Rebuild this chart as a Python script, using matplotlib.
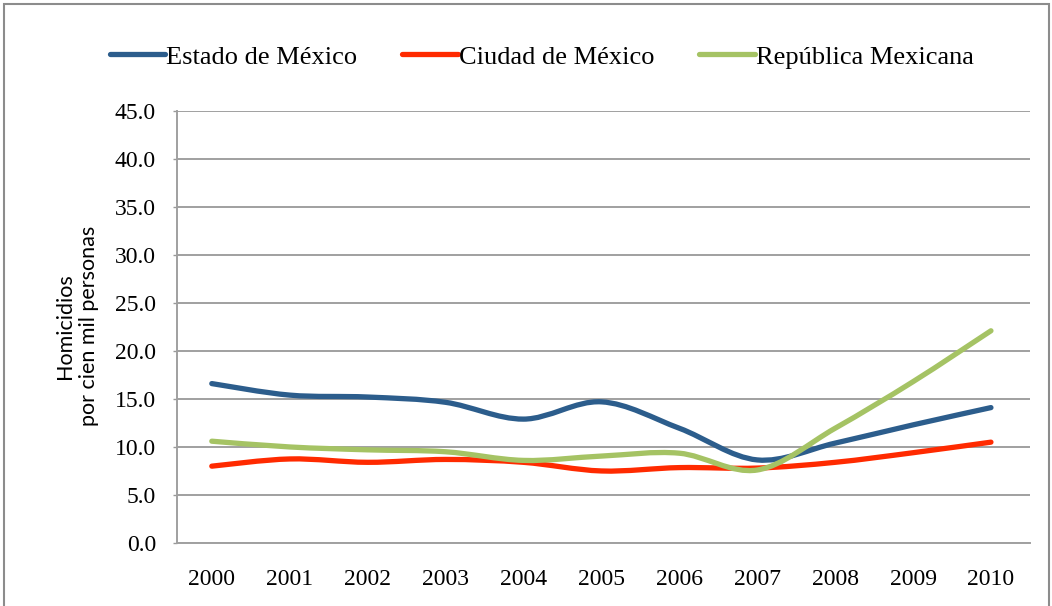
import numpy as np
import matplotlib
matplotlib.use("Agg")
import matplotlib.pyplot as plt
from matplotlib.path import Path
from matplotlib.patches import PathPatch, Rectangle
from matplotlib.lines import Line2D

# data
years = ['2000', '2001', '2002', '2003', '2004', '2005', '2006', '2007', '2008', '2009', '2010']
estado = [16.6, 15.4, 15.2, 14.65, 12.9, 14.7, 11.95, 8.65, 10.4, 12.3, 14.1]
ciudad = [8.0, 8.75, 8.4, 8.7, 8.4, 7.5, 7.85, 7.8, 8.4, 9.4, 10.5]
republica = [10.6, 10.0, 9.7, 9.5, 8.6, 9.05, 9.35, 7.6, 11.95, 16.8, 22.1]

names = ['Estado de México', 'Ciudad de México', 'República Mexicana']
colors = ['#2c5d8c', '#ff2a00', '#a5c364']
yticks = [0, 5, 10, 15, 20, 25, 30, 35, 40, 45]

serif = ['Liberation Serif', 'DejaVu Serif']


def smooth_path(xs, ys):
    # Excel-style smoothed line: Catmull-Rom segments as cubic Bezier curves
    pts = np.column_stack([xs, ys]).astype(float)
    n = len(pts)
    verts = [pts[0]]
    codes = [Path.MOVETO]
    for i in range(n - 1):
        p0 = pts[i - 1] if i > 0 else pts[i]
        p1 = pts[i]
        p2 = pts[i + 1]
        p3 = pts[i + 2] if i + 2 < n else pts[i + 1]
        c1 = p1 + (p2 - p0) / 6.0
        c2 = p2 - (p3 - p1) / 6.0
        verts += [c1, c2, p2]
        codes += [Path.CURVE4] * 3
    return Path(verts, codes)


fig = plt.figure(figsize=(10.52, 6.06), dpi=100)
ax = fig.add_axes([0.168, 0.104, 0.811, 0.713])

x = np.arange(len(years))
for vals, c in zip([estado, ciudad, republica], colors):
    ax.add_patch(PathPatch(smooth_path(x, vals), facecolor='none', edgecolor=c,
                           lw=3.8, capstyle='round', joinstyle='round', zorder=3))

ax.set_xlim(-0.45, 10.5)
ax.set_ylim(0, 45)
ax.set_xticks(x)
ax.set_xticklabels(years, fontfamily=serif, fontsize=17)
ax.set_yticks(yticks)
ax.set_yticklabels(['%.1f' % v for v in yticks], fontfamily=serif, fontsize=17)
ax.tick_params(axis='x', length=0, pad=19)
ax.tick_params(axis='y', length=3, width=1, color='#999999', pad=12)
ax.yaxis.grid(True, color='#a0a0a0', lw=1.4)
ax.set_axisbelow(True)
for s in ['top', 'right']:
    ax.spines[s].set_visible(False)
for s in ['left', 'bottom']:
    ax.spines[s].set_color('#a0a0a0')
    ax.spines[s].set_linewidth(1.4)

fig.text(0.073, 0.462, 'Homicidios\npor cien mil personas', rotation=90,
         ha='center', va='center', fontsize=15.5, family=['Lato', 'DejaVu Sans'],
         linespacing=1.25)

handles = [Line2D([], [], color=c, lw=3.8, solid_capstyle='round') for c in colors]
fig.legend(handles, names, loc='center', bbox_to_anchor=(0.515, 0.906), ncol=3,
           frameon=False, handlelength=2.1, handletextpad=0.05, columnspacing=1.7,
           prop={'family': serif, 'size': 19})

# outer chart border
fig.patches.append(Rectangle((0.004, -0.05), 0.993, 1.043, transform=fig.transFigure,
                             fill=False, edgecolor='#8c8c8c', lw=1.5))

fig.savefig('out.png', dpi=100, facecolor='white')
